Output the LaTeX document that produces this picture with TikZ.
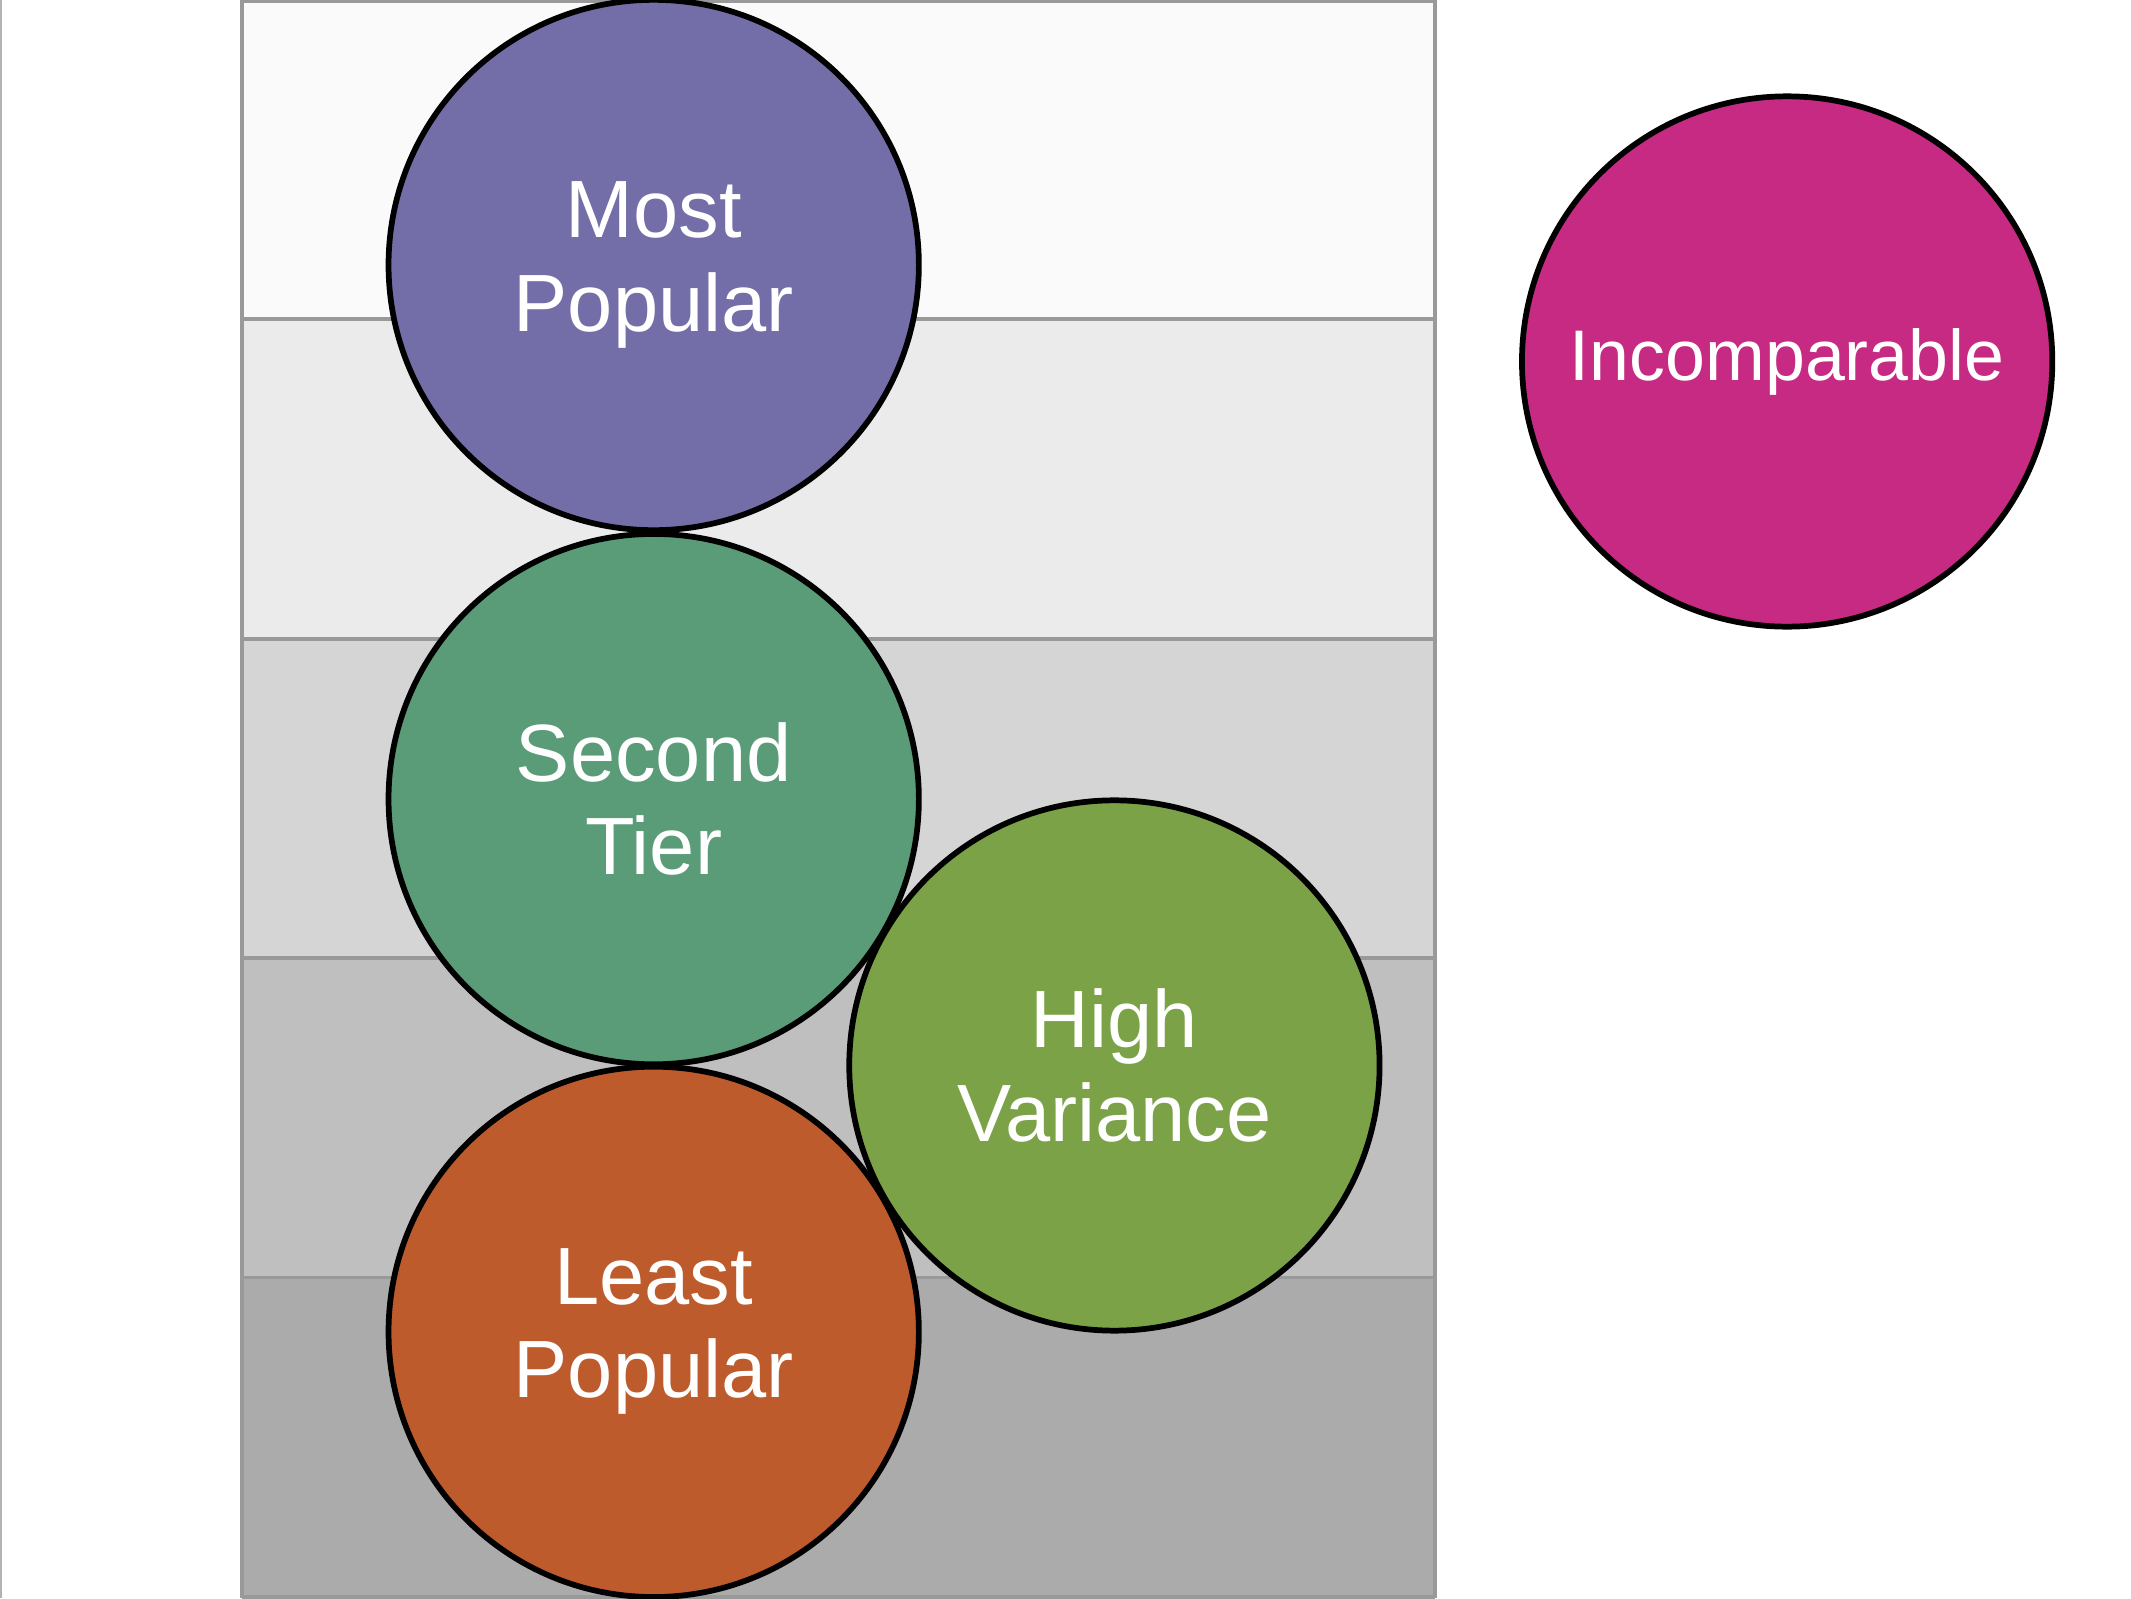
\documentclass[tikz,border=0pt]{standalone}
\usepackage{fontspec}
\setmainfont{Liberation Sans}
\definecolor{cpur}{HTML}{746EA8}
\definecolor{cgrn}{HTML}{5A9B78}
\definecolor{corg}{HTML}{BE5B2C}
\definecolor{colv}{HTML}{7BA246}
\definecolor{cmag}{HTML}{C62A82}
\begin{document}
\begin{tikzpicture}[x=0.01cm,y=-0.01cm,
  band/.style={draw=gray!80,line width=0.8pt},
  ball/.style={circle,draw=black,line width=1.2pt,minimum size=3.9cm,inner sep=0pt,align=center,text=white,font=\fontsize{17}{19.5}\selectfont}]
\useasboundingbox (0,0) rectangle (1568,1176);
\fill[white] (0,0) rectangle (1568,1176);
\draw[gray!60,line width=0.6pt] (0.3,0) -- (0.3,1176);
\fill[black!2] (178,0) rectangle (1056,235);
\fill[black!8] (178,235) rectangle (1056,470);
\fill[black!16.5] (178,470) rectangle (1056,705);
\fill[black!25] (178,705) rectangle (1056,940);
\fill[black!33] (178,940) rectangle (1056,1176);
\foreach \y in {1,235,470,705,940,1175} \draw[band] (178,\y) -- (1056,\y);
\draw[band] (178,0) -- (178,1176);
\draw[band] (1056,0) -- (1056,1176);
\node[ball,fill=cpur] (mp) at (481,195) {Most\\Popular};
\node[ball,fill=cgrn] (st) at (481,588) {Second\\Tier};
\node[ball,fill=corg] (lp) at (481,980) {Least\\Popular};
\node[ball,fill=colv] (hv) at (820,784) {High\\Variance};
\node[ball,fill=cmag,font=\fontsize{15}{18}\selectfont] (inc) at (1315,266) {Incomparable};
\end{tikzpicture}
\end{document}
